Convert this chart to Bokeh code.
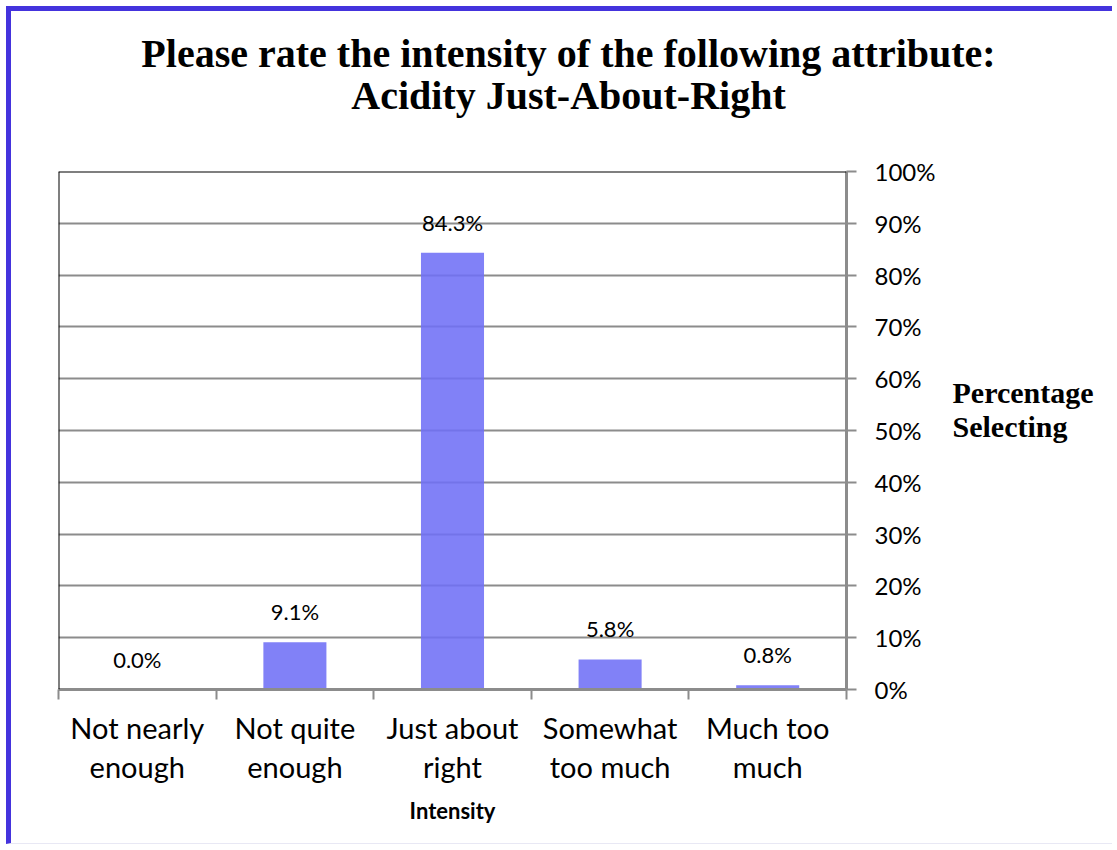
from bokeh.plotting import figure
from bokeh.models import (ColumnDataSource, LinearAxis, FixedTicker, Range1d,
                          LabelSet, Span, Grid, CustomJSTickFormatter,
                          PrintfTickFormatter)
from bokeh.core.properties import value
from bokeh.embed import file_html
from bokeh.resources import INLINE

# ---- data ----
categories = ["Not nearly\nenough", "Not quite\nenough", "Just about\nright",
              "Somewhat\ntoo much", "Much too\nmuch"]
percent_selecting = [0.0, 9.1, 84.3, 5.8, 0.8]
y_ticks = [0, 10, 20, 30, 40, 50, 60, 70, 80, 90, 100]
chart_title = "Please rate the intensity of the following attribute:\nAcidity Just-About-Right"
x_title = "Intensity"
y_title = "Percentage\nSelecting"

# ---- layout (pixels inside the bordered box) ----
W, H = 1106, 838
FL, FR, FT, FB = 47, 835, 160, 678
N = len(categories)
YMAX = 100

BLUE = "#4433dd"
GRAY = "#8c8c8c"
BAR = "#6f6ff6"


def px_x(sx):
    """Canvas x (inside the box) -> data x."""
    return (sx - FL) / (FR - FL) * N


def px_y(sy):
    """Canvas y (inside the box) -> data y."""
    return (FB - sy) / (FB - FT) * YMAX


p = figure(width=W, height=H, output_backend="svg", toolbar_location=None,
           title=None,
           x_range=Range1d(0, N), y_range=Range1d(0, YMAX),
           x_axis_location=None, y_axis_location=None,
           min_border_left=FL, min_border_right=W - FR,
           min_border_top=FT, min_border_bottom=H - FB)
p.outline_line_color = None
p.background_fill_color = "white"
p.border_fill_color = "white"
p.margin = (6, 0, 0, 6)
p.styles = {"border-left": f"5px solid {BLUE}", "border-top": f"5px solid {BLUE}",
            "border-bottom": "1px solid #e8e8f4"}

# only horizontal grid lines
for r in list(p.center):
    if isinstance(r, Grid):
        r.visible = False
grid = Grid(dimension=1, ticker=FixedTicker(ticks=y_ticks[1:-1]),
            grid_line_color=GRAY, grid_line_width=2)
p.add_layout(grid)

# left and top frame edges
p.add_layout(Span(location=0, dimension="height", line_color="black", line_width=2))
p.add_layout(Span(location=YMAX, dimension="width", line_color="black", line_width=2))

# bars
xs = [i + 0.5 for i in range(N)]
src = ColumnDataSource(dict(x=xs, top=percent_selecting,
                            lbl=[f"{v:.1f}%" for v in percent_selecting]))
p.vbar(x="x", top="top", width=0.4, source=src, fill_color=BAR, fill_alpha=0.88,
       line_color=None)

p.add_layout(LabelSet(x="x", y="top", text="lbl", source=src, y_offset=17,
                      text_align="center", text_baseline="bottom",
                      text_font=value("Lato"), text_font_size=value("22px"),
                      text_color="black"))

# bottom axis: category names at centres, ticks at boundaries
xaxis = LinearAxis(
    ticker=FixedTicker(ticks=xs, minor_ticks=list(range(N + 1))),
    formatter=CustomJSTickFormatter(args=dict(names=categories),
                                    code="return names[Math.floor(tick)];"),
    axis_line_color=GRAY, axis_line_width=3,
    major_tick_out=0, major_tick_in=0,
    minor_tick_out=10, minor_tick_in=0,
    minor_tick_line_color=GRAY, minor_tick_line_width=2,
    major_label_text_font="Lato", major_label_text_font_size="29px",
    major_label_text_line_height=1.13, major_label_standoff=10,
    major_label_text_color="black",
    axis_label=x_title, axis_label_text_font="Lato",
    axis_label_text_font_style="bold", axis_label_text_font_size="22px",
    axis_label_standoff=10, axis_label_text_color="black")
p.add_layout(xaxis, "below")

# right axis: percentages
yaxis = LinearAxis(
    ticker=FixedTicker(ticks=y_ticks),
    formatter=PrintfTickFormatter(format="%d%%"),
    axis_line_color=GRAY, axis_line_width=3,
    major_tick_out=10, major_tick_in=0,
    major_tick_line_color=GRAY, major_tick_line_width=2,
    minor_tick_out=0, minor_tick_in=0,
    major_label_text_font="Lato", major_label_text_font_size="24px",
    major_label_standoff=18, major_label_text_color="black")
p.add_layout(yaxis, "right")

# value-axis caption, written horizontally beside the tick labels
caption = LinearAxis(
    ticker=FixedTicker(ticks=[px_y(398)]),
    formatter=CustomJSTickFormatter(args=dict(t=y_title), code="return t;"),
    axis_line_color=None, major_tick_line_color=None,
    major_tick_out=0, major_tick_in=0, minor_tick_out=0, minor_tick_in=0,
    major_label_text_font="Liberation Serif", major_label_text_font_style="bold",
    major_label_text_font_size="30px", major_label_text_line_height=1.03,
    major_label_standoff=14, major_label_text_color="black")
p.add_layout(caption, "right")

# chart title, centred over the whole box
header = LinearAxis(
    ticker=FixedTicker(ticks=[px_x(557)]),
    formatter=CustomJSTickFormatter(args=dict(t=chart_title), code="return t;"),
    axis_line_color=None, major_tick_line_color=None,
    major_tick_out=0, major_tick_in=0, minor_tick_out=0, minor_tick_in=0,
    major_label_text_font="Liberation Serif", major_label_text_font_style="bold",
    major_label_text_font_size="40px", major_label_text_line_height=0.93,
    major_label_standoff=54, major_label_text_color="black")
p.add_layout(header, "above")

open("out.html", "w").write(file_html(p, INLINE))
